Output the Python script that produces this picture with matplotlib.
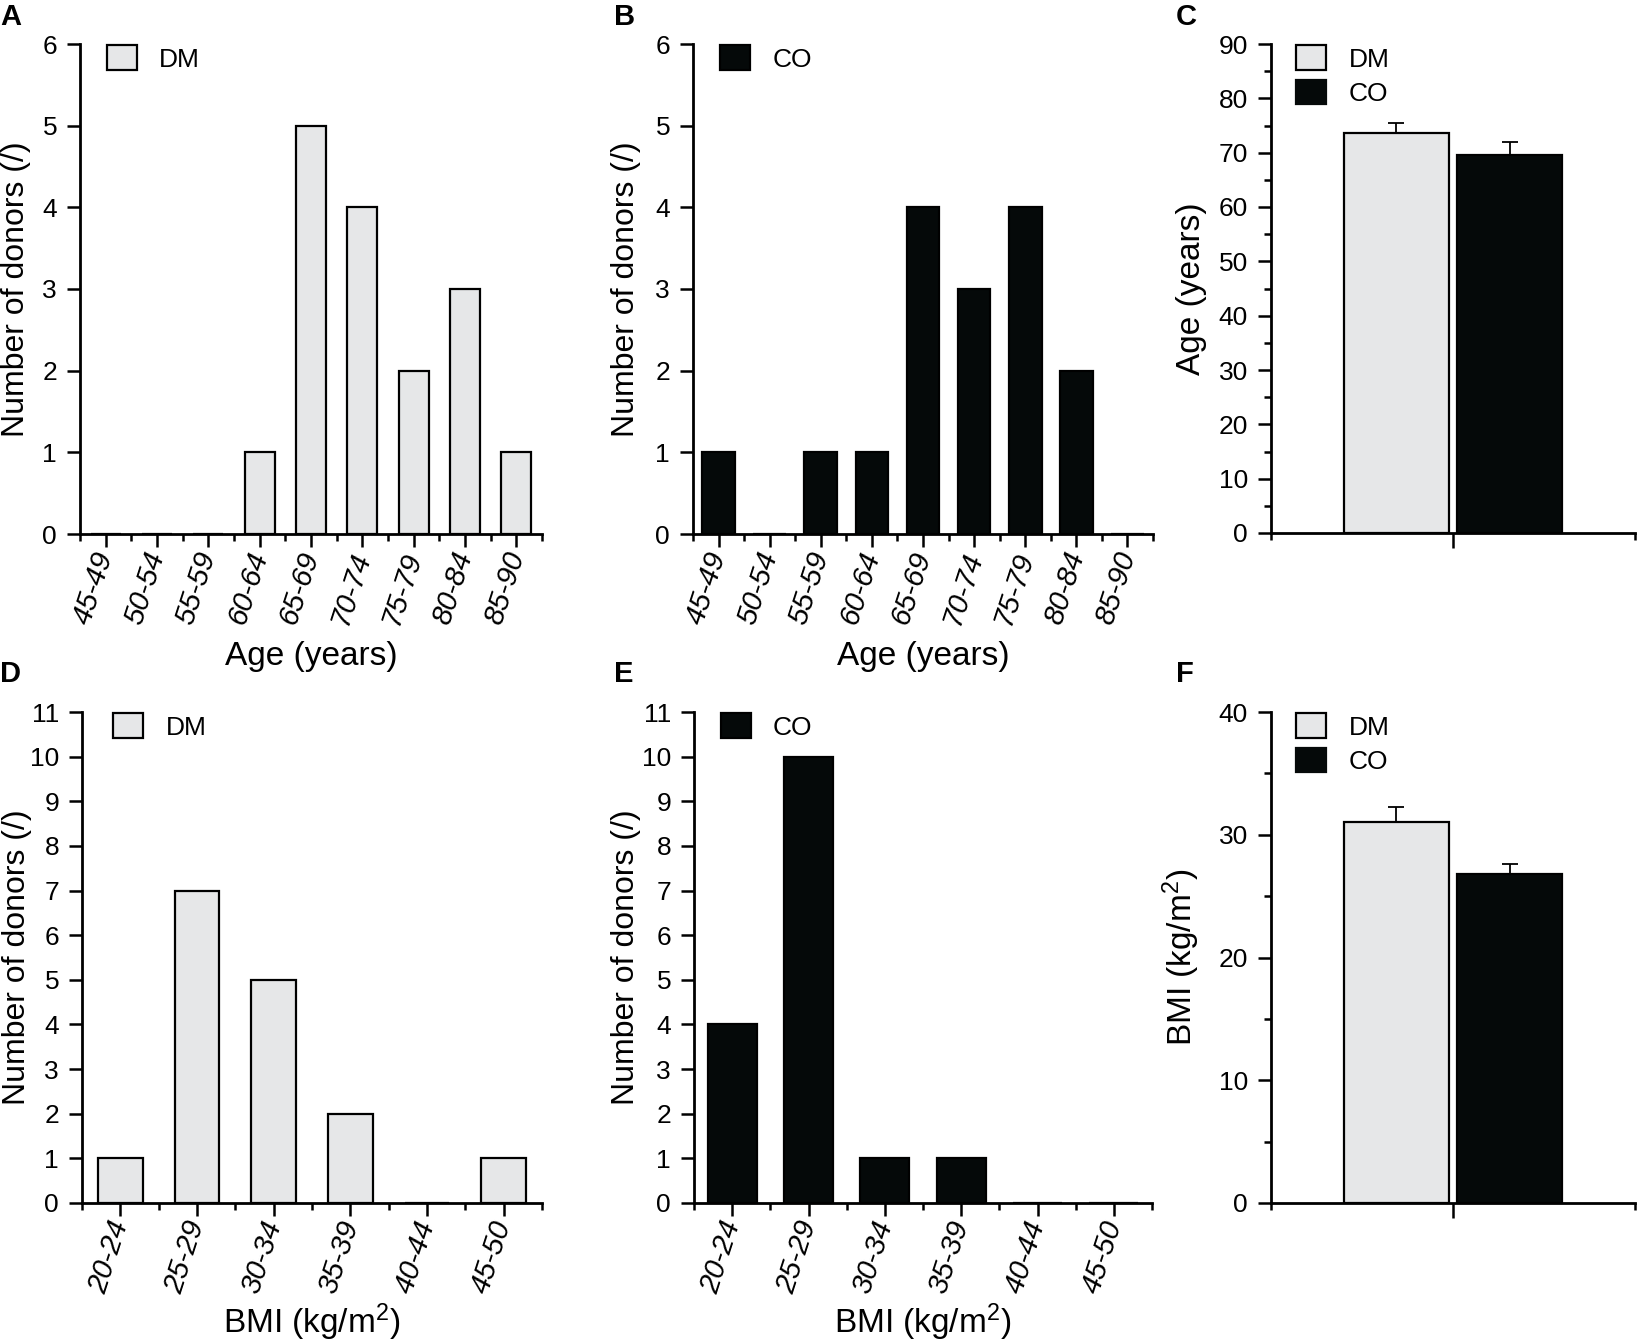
import numpy as np
import matplotlib
matplotlib.use("Agg")
import matplotlib.pyplot as plt
import matplotlib.patches as mpatches
from matplotlib.ticker import MultipleLocator

plt.rcParams['font.family'] = ['Liberation Sans', 'DejaVu Sans']
plt.rcParams['mathtext.fontset'] = 'custom'
plt.rcParams['mathtext.rm'] = 'Liberation Sans'
plt.rcParams['mathtext.it'] = 'Liberation Sans:italic'

# datos
rangos_edad = ['45-49', '50-54', '55-59', '60-64', '65-69', '70-74', '75-79', '80-84', '85-90']
edad_dm = [0, 0, 0, 1, 5, 4, 2, 3, 1]
edad_co = [1, 0, 1, 1, 4, 3, 4, 2, 0]

rangos_bmi = ['20-24', '25-29', '30-34', '35-39', '40-44', '45-50']
bmi_dm = [1, 7, 5, 2, 0, 1]
bmi_co = [4, 10, 1, 1, 0, 0]

grupos = ['DM', 'CO']
edad_media = [73.6, 69.5]
edad_sem = [1.9, 2.4]
bmi_media = [31.0, 26.8]
bmi_sem = [1.3, 0.8]

gris = '#e6e7e8'
negro = '#050909'
W, H = 1639, 1343


def caja(x0, x1, y0, y1):
    return [x0 / W, 1 - y1 / H, (x1 - x0) / W, (y1 - y0) / H]


def ejes(ax):
    for lado in ['top', 'right']:
        ax.spines[lado].set_visible(False)
    for lado in ['left', 'bottom']:
        ax.spines[lado].set_linewidth(2)
    ax.tick_params(which='major', length=9.5, width=1.8, labelsize=19, pad=7)
    ax.tick_params(which='minor', length=5, width=1.8)


def histo(ax, etiquetas, valores, color, nombre, xlabel, ymax, leg_x, lab_x, xpad):
    x = np.arange(len(etiquetas))
    ancho = 0.58 if color == gris else 0.64
    ax.bar(x, valores, ancho, color=color, edgecolor='black', linewidth=1.6)
    ax.set_xlim(-0.5, len(etiquetas) - 0.5)
    ax.set_ylim(0, ymax)
    ax.set_yticks(range(ymax + 1))
    ax.set_xticks(x)
    ax.set_xticks(np.arange(len(etiquetas) + 1) - 0.5, minor=True)
    ejes(ax)
    ax.set_xticklabels(etiquetas, rotation=72, ha='right', va='center',
                       rotation_mode='anchor', style='italic', fontsize=21)
    ax.tick_params(axis='x', which='major', pad=4)
    ax.set_ylabel('Number of donors (/)', fontsize=23)
    ax.yaxis.set_label_coords(lab_x, 0.5)
    ax.set_xlabel(xlabel, fontsize=24, labelpad=xpad)
    parche = mpatches.Patch(facecolor=color, edgecolor='black', linewidth=1.6, label=nombre)
    ax.legend(handles=[parche], loc='upper left', bbox_to_anchor=(leg_x, 0.997),
              frameon=False, fontsize=19, borderpad=0, borderaxespad=0,
              handlelength=1.14, handleheight=1.06, handletextpad=0.85)


def barras(ax, medias, errores, ylabel, ymax, lab_x):
    pos = [0.687, 1.313]
    ax.bar(pos, medias, 0.577, color=[gris, negro], edgecolor='black', linewidth=1.6)
    ax.errorbar(pos, medias, yerr=[[0, 0], errores], fmt='none', ecolor='black',
                elinewidth=1.3, capsize=6, capthick=1.3)
    ax.set_xlim(0, 2)
    ax.set_ylim(0, ymax)
    ax.set_xticks([1])
    ax.set_xticklabels([])
    ax.set_xticks([0, 2], minor=True)
    ax.yaxis.set_major_locator(MultipleLocator(10))
    ax.yaxis.set_minor_locator(MultipleLocator(5))
    ejes(ax)
    ax.tick_params(axis='x', which='major', length=11)
    ax.set_ylabel(ylabel, fontsize=24)
    ax.yaxis.set_label_coords(lab_x, 0.5)
    parches = [mpatches.Patch(facecolor=gris, edgecolor='black', linewidth=1.6, label=grupos[0]),
               mpatches.Patch(facecolor=negro, edgecolor=negro, linewidth=1.6, label=grupos[1])]
    ax.legend(handles=parches, loc='upper left', bbox_to_anchor=(0.069, 0.997),
              frameon=False, fontsize=19, borderpad=0, borderaxespad=0,
              handlelength=1.14, handleheight=1.06, handletextpad=0.85, labelspacing=0.3)


fig = plt.figure(figsize=(W / 100, H / 100), dpi=100)

axA = fig.add_axes(caja(80, 542, 44, 534))
histo(axA, rangos_edad, edad_dm, gris, 'DM', 'Age (years)', 6, 0.058, -0.106, 9)
axB = fig.add_axes(caja(693, 1153, 44, 534))
histo(axB, rangos_edad, edad_co, negro, 'CO', 'Age (years)', 6, 0.058, -0.113, 9)
axC = fig.add_axes(caja(1271, 1635, 44, 533))
barras(axC, edad_media, edad_sem, 'Age (years)', 90, -0.175)

bmi_txt = r'BMI (kg/m$^{\mathregular{2}}$)'
axD = fig.add_axes(caja(82, 542, 712, 1203))
histo(axD, rangos_bmi, bmi_dm, gris, 'DM', bmi_txt, 11, 0.068, -0.108, 3)
axE = fig.add_axes(caja(694, 1152, 712, 1203))
histo(axE, rangos_bmi, bmi_co, negro, 'CO', bmi_txt, 11, 0.058, -0.116, 3)
axF = fig.add_axes(caja(1271, 1635, 712, 1203))
barras(axF, bmi_media, bmi_sem, bmi_txt, 40, -0.19)

letras = [('A', 0, 3), ('B', 614, 3), ('C', 1176, 3), ('D', 0, 660), ('E', 614, 660), ('F', 1176, 660)]
for letra, x, y in letras:
    fig.text(x / W, 1 - y / H, letra, fontsize=21, fontweight='bold', va='top', ha='left')

fig.savefig('out.png', dpi=100)
